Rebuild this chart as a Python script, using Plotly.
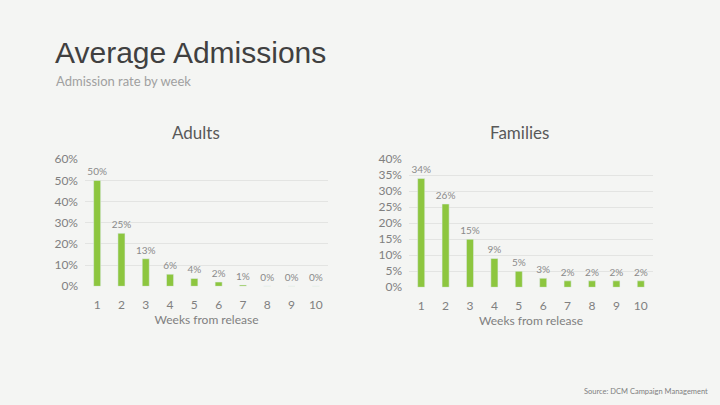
import plotly.graph_objects as go

# data
weeks = [str(i) for i in range(1, 11)]
adults = [0.50, 0.25, 0.13, 0.057, 0.037, 0.02, 0.006, 0.002, 0.001, 0.001]
families = [0.34, 0.26, 0.15, 0.09, 0.05, 0.028, 0.02, 0.02, 0.02, 0.02]

W, H = 720, 405
green = '#8dc63f'
grey = '#808080'
font = 'Lato, Liberation Sans, sans-serif'


def px_x(a, b):
    return [a / W, b / W]


def px_y(top, bottom):
    return [(H - bottom) / H, (H - top) / H]


fig = go.Figure()

fig.add_trace(go.Bar(x=weeks, y=adults, marker_color=green, width=0.29,
                     texttemplate='%{y:.0%}', textposition='outside', constraintext='none',
                     textfont=dict(size=10, color='#8a8a8a'), cliponaxis=False,
                     xaxis='x', yaxis='y', showlegend=False))
fig.add_trace(go.Bar(x=weeks, y=families, marker_color=green, width=0.29,
                     texttemplate='%{y:.0%}', textposition='outside', constraintext='none',
                     textfont=dict(size=10, color='#8a8a8a'), cliponaxis=False,
                     xaxis='x2', yaxis='y2', showlegend=False))

xax = dict(type='category', showgrid=False, zeroline=False, showline=False,
           tickfont=dict(size=12, color=grey), ticks='', ticklabelstandoff=10,
           title=dict(text='Weeks from release', font=dict(size=12, color=grey), standoff=3))
yax = dict(tickformat='.0%', showgrid=True, gridcolor='#e3e4e2', zeroline=False,
           tickfont=dict(size=12, color=grey), ticks='', ticklabelstandoff=6, fixedrange=True)

fig.update_layout(
    width=W, height=H,
    margin=dict(l=0, r=0, t=0, b=0),
    paper_bgcolor='#f4f5f3', plot_bgcolor='#f4f5f3',
    font=dict(family=font),
    bargap=0.7,
    xaxis=dict(xax, domain=px_x(85, 328), anchor='y', range=[-0.5, 9.5]),
    yaxis=dict(yax, domain=px_y(157, 289), anchor='x', range=[0, 0.6], dtick=0.1),
    xaxis2=dict(xax, domain=px_x(409, 653), anchor='y2', range=[-0.5, 9.5]),
    yaxis2=dict(yax, domain=px_y(157, 290), anchor='x2', range=[0, 0.4], dtick=0.05),
    annotations=[
        dict(text='Average Admissions', x=53 / W, y=1 - 46 / H, xref='paper', yref='paper',
             xanchor='left', yanchor='middle', showarrow=False,
             font=dict(family='Liberation Sans, Arial', size=30, color='#404040')),
        dict(text='Admission rate by week', x=54 / W, y=1 - 76 / H, xref='paper', yref='paper',
             xanchor='left', yanchor='middle', showarrow=False,
             font=dict(size=13, color='#a0a0a0')),
        dict(text='Adults', x=196 / W, y=1 - 129 / H, xref='paper', yref='paper',
             xanchor='center', yanchor='middle', showarrow=False,
             font=dict(size=17, color='#595959')),
        dict(text='Families', x=519 / W, y=1 - 129 / H, xref='paper', yref='paper',
             xanchor='center', yanchor='middle', showarrow=False,
             font=dict(size=17, color='#595959')),
        dict(text='Source: DCM Campaign Management', x=710 / W, y=1 - 398 / H,
             xref='paper', yref='paper', xanchor='right', yanchor='middle', showarrow=False,
             font=dict(size=7.5, color='#7f7f7f')),
    ],
)

fig.write_html('out.html', config={'displayModeBar': False},
               post_script="document.body.style.margin='0';")
